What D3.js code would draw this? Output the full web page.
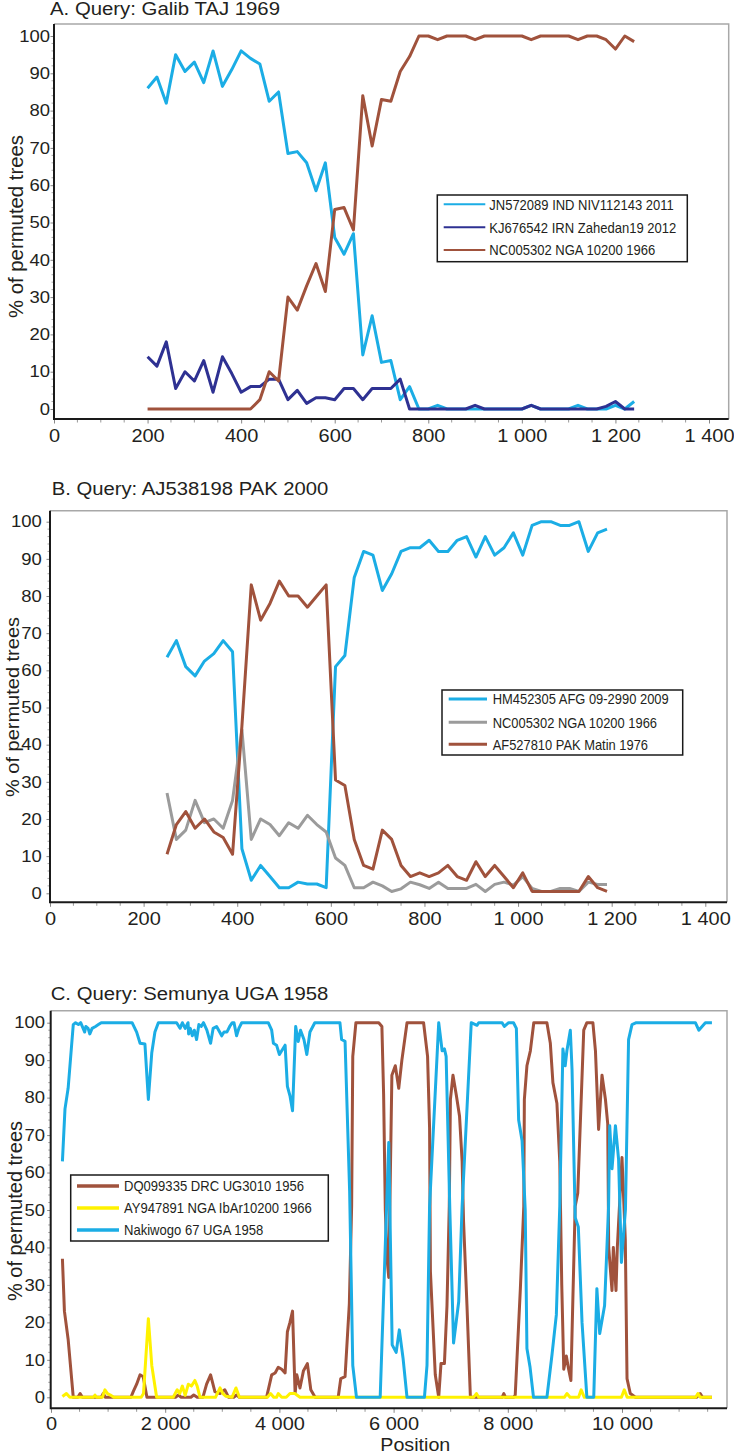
<!DOCTYPE html>
<html><head><meta charset="utf-8">
<script src="https://cdn.jsdelivr.net/npm/d3@7"></script>
<style>body{margin:0;background:#fff}svg{display:block}</style>
</head><body>
<svg id="chart" width="734" height="1455"></svg>
<script>
// ---------------- DATA ----------------
const yTicks = [0,10,20,30,40,50,60,70,80,90,100];
const abXTicks = [0,200,400,600,800,1000,1200,1400];
const cXTicks = [0,2000,4000,6000,8000,10000];

// Panel A
const aTitle = "A. Query: Galib TAJ 1969";
const aNames = ["JN572089 IND NIV112143 2011","KJ676542 IRN Zahedan19 2012","NC005302 NGA 10200 1966"];
const aPositions = [200,220,240,260,280,300,320,340,360,380,400,420,440,460,480,500,520,540,560,580,600,620,640,660,680,700,720,740,760,780,800,820,840,860,880,900,920,940,960,980,1000,1020,1040,1060,1080,1100,1120,1140,1160,1180,1200,1220,1240];
const aJN572089 = [86,89,82,95,90.5,93,87.5,96,86.5,91,96, 94,92.5,82.5,85,68.5,69,66,58.5,66,46, 41.5,47,14.5,25,12.5,13,2.5,6,0,0, 1,0,0,0,0,0,0,0,0,0, 1,0,0,0,0,1,0,0,0,1, 0,2];
const aKJ676542 = [14,11.5,18,5.5,10,7.5,13,4.5,14,9.5,4.5, 6,6,8,8,2.5,5,1.5,3,3,2.5, 5.5,5.5,2.5,5.5,5.5,5.5,8,0,0,0, 0,0,0,0,1,0,0,0,0,0, 1,0,0,0,0,0,0,0,0.7,2, 0,0];
const aNC005302 = [0,0,0,0,0,0,0,0,0,0,0, 0,2.5,10,7.5,30,26.5,33,39,31.5,53.5, 54,48,84,70.5,83,82.5,90.5,94.5,100,100, 99,100,100,100,99,100,100,100,100,100, 99,100,100,100,100,99,100,100,99,96.5, 100,98.5];

// Panel B
const bTitle = "B. Query: AJ538198 PAK 2000";
const bNames = ["HM452305 AFG 09-2990 2009","NC005302 NGA 10200 1966","AF527810 PAK Matin 1976"];
const bPositions = [250,270,290,310,330,350,370,390,410,430,450,470,490,510,530,550,570,590,610,630,650,670,690,710,730,750,770,790,810,830,850,870,890,910,930,950,970,990,1010,1030,1050,1070,1090,1110,1130,1150,1170,1190];
const bHM452305 = [63.5,68,61,58.5,62.5,64.5,68,65, 12,3.5,7.5,4.5,1.5,1.5,3,2.5,2.5,1.5, 61,64,85,92,91, 81.5,86,92,93,93,95,92,92,95,96, 90.5,96,91,93,97,91,99,100,100,99, 99,100,92,97,98];
const bNC005302 = [27,14.5,17,25,19,20,17.5,25, 44,14.5,20,18.5,15.5,19,17.5,21,18.5,16.5, 9.5,7.5,1.5,1.5,3, 2,0.5,1.2,3,2.3,1.3,3,1.3,1.3,1.3, 2.4,0.5,2.4,3,2.2,4.5,1.3,0.5,0.5,1.3, 1.3,0.5,3,2.4,2.4];
const bAF527810 = [10.5,18.5,22,17.5,20,16.5,15,10.5, 45,83,73.5,78,84,80,80,77,80,83, 30.5,29,14.5,7.5,6.5, 17,14.5,7.5,4.5,5.5,4.5,5.5,7.5,4.5,3.5, 8.5,4.5,7.5,4.5,1.5,5.5,0.5,0.5,0.5,0.5, 0.5,0.5,4.5,1.5,0.5];

// Panel C
const cTitle = "C. Query: Semunya UGA 1958";
const cNames = ["DQ099335 DRC UG3010 1956","AY947891 NGA IbAr10200 1966","Nakiwogo 67 UGA 1958"];
const cDQPos = [200,235,300,390,470,510,550,880,915,950,1400,1440,1500,1560,1615,1680,2180,2230,2280,2450,2500,2560,2660,2725,2795,2870,2960,3045,3110,3200,3250,3300,3775,3865,3925,3980,4040,4100,4140,4185,4230,4275,4305,4360,4420,4490,4550,4625,5030,5075,5150,5225,5265,5285,5340,5740,5795,5825,5855,5885,5915,5970,6030,6090,6145,6235,6525,6595,6630,6645,6730,6790,6830,6890,6935,6975,6995,7040,7100,7155,7200,7225,7285,7345,7900,7930,7960,8100,8130,8220,8280,8290,8335,8395,8455,8685,8745,8790,8860,8910,8945,8980,9025,9065,9105,9140,9180,9225,9330,9385,9490,9535,9590,9650,9710,9750,9767,9825,9848,9895,9918,10000,10058,10088,10145,10235,11310,11370,11410,11575];
const cDQVal = [37,23,15.5,0,0,1,0,0,1,0,0,1.5,3.5,6,5.5,0,0,0.6,0,0,0.6,0,0,3.5,6,1.5,1,2,0,0,0.6,0,0,6,6.5,8,7.5,6.5,17.5,20,23,1,6,2.5,7,9,2,0,0,5,5.5,25,51,91,100,100,99,81,50,37,32,86,88.5,82.5,90,100,100,91,72,33.5,6,0,9,9,24.5,51,79.5,86,80.5,75,63,47,24.5,0,0,1,0,0,0.6,29,51,79.5,88.5,92.5,100,100,94.5,84,78.5,63,30,7.5,11,7.5,4.5,26.5,51,54.5,98,100,100,92.5,71.5,86,79.5,73,40,28.5,40,28.5,40,64,42,5,1,0,0,1,0,0];
const cAYPos = [200,270,330,740,770,800,900,945,990,1040,1100,1580,1620,1705,1765,1850,2140,2210,2255,2300,2350,2405,2460,2520,2560,2610,2880,2960,3010,3060,3170,3240,3300,3790,3845,3900,3950,3980,4040,4120,4185,4270,4360,7400,7450,7490,8990,9035,9090,9240,9285,9340,9990,10040,10090,11290,11330,11370,11575];
const cAYVal = [0.2,1,0,0,0.6,0,0,2,1,0.6,0,0,1,21,8.5,0,0,2,1,3,0.5,3.5,3,4.5,3,0,0,2.5,1,0.3,0,2.5,0,0,1,0,0,1,0,0,1,1,0,0,1,0,0,1,0,0,2,0,0,2,0,0,1,0,0];
const cNakPos = [200,245,300,390,430,480,520,590,610,650,680,720,780,830,880,1420,1500,1560,1645,1705,1765,1820,1880,2200,2260,2300,2350,2400,2410,2440,2475,2510,2550,2590,2630,2670,2730,2795,2840,2900,2990,3030,3080,3130,3175,3205,3250,3290,3340,3805,3865,3895,3950,4000,4040,4100,4140,4185,4230,4285,4330,4370,4430,4480,4535,4620,5060,5090,5150,5230,5285,5350,5765,5915,5975,6045,6100,6165,6235,6540,6585,6630,6790,6850,6890,6920,6985,7050,7140,7200,7360,7460,7490,7900,7940,8015,8100,8150,8190,8250,8305,8335,8390,8450,8685,8775,8850,8910,8965,9005,9035,9095,9125,9180,9235,9300,9385,9505,9560,9610,9695,9765,9785,9825,9885,9940,9990,10060,10115,10175,10250,11285,11345,11460,11575];
const cNakVal = [63,77,82.5,99.5,100,99.5,100,97.5,99,98.5,97,98.5,99,99.5,100,100,97.5,94.5,94.3,79.5,92,97.5,100,100,98.5,100,98.5,100,97,98.5,96.5,98,95.5,99.5,99,100,98,94.5,98.5,99,96.5,97.5,97.5,99,100,100,96.5,98.5,100,100,98,94.5,94,91.5,92.5,94,83,80.5,76.5,99,95,98,95.5,91.5,97.5,100,100,95.5,95,55,8.5,0,0,68,14,12,18,10.5,0,0,8.5,51,100,92.5,93,91,50,14.5,25.5,51,100,99.3,100,100,99,100,100,98.5,74,68.5,50,13,8,0,0,11.5,22,51,93,88.5,92.5,98,87.5,48,45.5,20,0,0,29,17,24.5,51,72.5,61,72.5,63.5,36,50,95.5,99.5,100,100,98,100,100];

// colours
const BLUE = "#1badE5", NAVY = "#2e3192", BROWN = "#a0523c", GRAY = "#9b9b9b", YELLOW = "#fff200";

// ---------------- DRAW ----------------
const svg = d3.select("#chart");
const FONT = "'Liberation Sans', Arial, Helvetica, sans-serif";
const NARROW = "'Liberation Sans Narrow', 'Liberation Sans', Arial, sans-serif";
const fmt = d3.formatLocale({decimal: ".", thousands: " ", grouping: [3], currency: ["", ""]}).format(",");

const panels = [
  { title: aTitle, titleX: 50, titleY: 15, titleW: 230,
    left: 54, right: 728.7, top: 24, bottom: 419,
    xDom: [0,1400], xRange: [54,709], yRange: [409,36],
    xTicks: abXTicks, xMinor: 50, yGap: 4, xLabTop: 10.3,
    ylab: {x: 23.3, y: 226.5, w: 183, fs: 20.5},
    series: [
      {name: aNames[0], color: BLUE, pos: aPositions, val: aJN572089},
      {name: aNames[1], color: NAVY, pos: aPositions, val: aKJ676542},
      {name: aNames[2], color: BROWN, pos: aPositions, val: aNC005302}],
    drawOrder: [0,1,2],
    legend: {x0: 437.3, x1: 687.3, y0: 195, y1: 261.7, lx0: 443.7, lx1: 485.3, tx: 489.3,
             rows: [204.3, 227.3, 250], widths: [184.4, 187, 166], lw: 2}
  },
  { title: bTitle, titleX: 51.7, titleY: 495, titleW: 276.7,
    left: 50, right: 727, top: 510.7, bottom: 902.3,
    xDom: [0,1400], xRange: [50,705.3], yRange: [893.3,521.7],
    xTicks: abXTicks, xMinor: 50, yGap: 8.3, xLabTop: 10,
    ylab: {x: 18.5, y: 707, w: 180, fs: 19},
    series: [
      {name: bNames[0], color: BLUE, pos: bPositions, val: bHM452305},
      {name: bNames[1], color: GRAY, pos: bPositions, val: bNC005302},
      {name: bNames[2], color: BROWN, pos: bPositions, val: bAF527810}],
    drawOrder: [0,1,2],
    legend: {x0: 442, x1: 682.7, y0: 690, y1: 755, lx0: 448.7, lx1: 487, tx: 492.7,
             rows: [699, 722.3, 744.3], widths: [176, 164.3, 155.3], lw: 3}
  },
  { title: cTitle, titleX: 50.7, titleY: 1000, titleW: 277.7,
    left: 50.7, right: 727, top: 1010.7, bottom: 1408.3,
    xDom: [0,10000], xRange: [51,622], yRange: [1397.3,1022.7],
    xTicks: cXTicks, xMinor: 500, yGap: 5.7, xLabTop: 8.5,
    ylab: {x: 21.7, y: 1211, w: 180, fs: 20.5},
    series: [
      {name: cNames[0], color: BROWN, pos: cDQPos, val: cDQVal},
      {name: cNames[1], color: YELLOW, pos: cAYPos, val: cAYVal},
      {name: cNames[2], color: BLUE, pos: cNakPos, val: cNakVal}],
    drawOrder: [0,1,2],
    legend: {x0: 70.7, x1: 328.3, y0: 1175, y1: 1241, lx0: 77, lx1: 119, tx: 124,
             rows: [1186, 1208, 1230], widths: [180, 187.7, 139.3], lw: 3.5},
    xTitle: {text: "Position", x: 415.3, y: 1451, w: 70}
  }
];

const XK = 1.08, YK = 1.12;

panels.forEach(p => {
  const x = d3.scaleLinear().domain(p.xDom).range(p.xRange);
  const y = d3.scaleLinear().domain([0, 100]).range(p.yRange);
  const g = svg.append("g");

  // frame (top/right)
  g.append("path").attr("d", `M${p.left},${p.top}H${p.right}V${p.bottom}`)
    .attr("fill", "none").attr("stroke", "#a8a8a8").attr("stroke-width", 1.5);

  // minor x ticks
  const xEnd = x.invert(p.right);
  const minorX = d3.range(0, xEnd, p.xMinor).filter(v => !p.xTicks.includes(v));
  g.append("g").selectAll("line").data(minorX).join("line")
    .attr("x1", d => x(d)).attr("x2", d => x(d))
    .attr("y1", p.bottom).attr("y2", p.bottom + 3.5)
    .attr("stroke", "#999").attr("stroke-width", 1);
  // minor y ticks
  const minorY = d3.range(0, 101, 2).filter(v => v % 10 !== 0);
  g.append("g").selectAll("line").data(minorY).join("line")
    .attr("x1", p.left - 2.5).attr("x2", p.left)
    .attr("y1", d => y(d)).attr("y2", d => y(d))
    .attr("stroke", "#aaa").attr("stroke-width", 1);

  // x axis
  const gx = g.append("g").attr("transform", `translate(0,${p.bottom})`)
    .call(d3.axisBottom(x).tickValues(p.xTicks).tickFormat(fmt).tickSize(4.5).tickPadding(p.xLabTop - 4.5));
  gx.select(".domain").remove();
  gx.attr("font-family", FONT).attr("font-size", 18.5);
  gx.selectAll(".tick line").attr("stroke", "#888");
  gx.selectAll(".tick text").attr("fill", "#231f20").attr("transform", `scale(${XK},1)`);

  // y axis
  const gy = g.append("g").attr("transform", `translate(${p.left},0)`)
    .call(d3.axisLeft(y).tickValues(yTicks).tickSize(3.5).tickPadding(0));
  gy.select(".domain").remove();
  gy.attr("font-family", FONT).attr("font-size", 16.5);
  gy.selectAll(".tick line").attr("stroke", "#888");
  gy.selectAll(".tick text").attr("fill", "#231f20")
    .attr("x", -p.yGap / YK).attr("transform", `scale(${YK},1)`);

  // axis lines (left + bottom)
  g.append("path").attr("d", `M${p.left},${p.top}V${p.bottom}H${p.right}`)
    .attr("fill", "none").attr("stroke", "#1a1a1a").attr("stroke-width", 2);

  // series
  const line = d3.line().x(d => x(d[0])).y(d => y(d[1]));
  p.drawOrder.forEach(i => {
    const s = p.series[i];
    g.append("path").datum(d3.zip(s.pos, s.val))
      .attr("d", line).attr("fill", "none")
      .attr("stroke", s.color).attr("stroke-width", 3)
      .attr("stroke-linejoin", "round").attr("stroke-linecap", "butt");
  });

  // legend
  const L = p.legend;
  const lg = g.append("g");
  lg.append("rect").attr("x", L.x0).attr("y", L.y0).attr("width", L.x1 - L.x0).attr("height", L.y1 - L.y0)
    .attr("fill", "#fff").attr("stroke", "#1a1a1a").attr("stroke-width", 1.5);
  p.series.forEach((s, i) => {
    lg.append("line").attr("x1", L.lx0).attr("x2", L.lx1).attr("y1", L.rows[i]).attr("y2", L.rows[i])
      .attr("stroke", s.color).attr("stroke-width", L.lw);
    lg.append("text").attr("x", L.tx).attr("y", L.rows[i] + 5.3)
      .attr("font-family", NARROW).attr("font-size", 15).attr("fill", "#231f20")
      .attr("textLength", L.widths[i]).attr("lengthAdjust", "spacingAndGlyphs")
      .text(s.name);
  });

  // title
  g.append("text").attr("x", p.titleX).attr("y", p.titleY)
    .attr("font-family", FONT).attr("font-size", 17.5).attr("fill", "#231f20")
    .attr("textLength", p.titleW).attr("lengthAdjust", "spacingAndGlyphs")
    .text(p.title);

  // y label
  g.append("text").attr("transform", `translate(${p.ylab.x},${p.ylab.y}) rotate(-90)`)
    .attr("text-anchor", "middle").attr("font-family", FONT).attr("font-size", p.ylab.fs).attr("fill", "#231f20")
    .attr("textLength", p.ylab.w).attr("lengthAdjust", "spacingAndGlyphs")
    .text("% of permuted trees");

  if (p.xTitle) {
    g.append("text").attr("x", p.xTitle.x).attr("y", p.xTitle.y).attr("text-anchor", "middle")
      .attr("font-family", FONT).attr("font-size", 18.5).attr("fill", "#231f20")
      .attr("textLength", p.xTitle.w).attr("lengthAdjust", "spacingAndGlyphs")
      .text(p.xTitle.text);
  }
});
</script>
</body></html>
